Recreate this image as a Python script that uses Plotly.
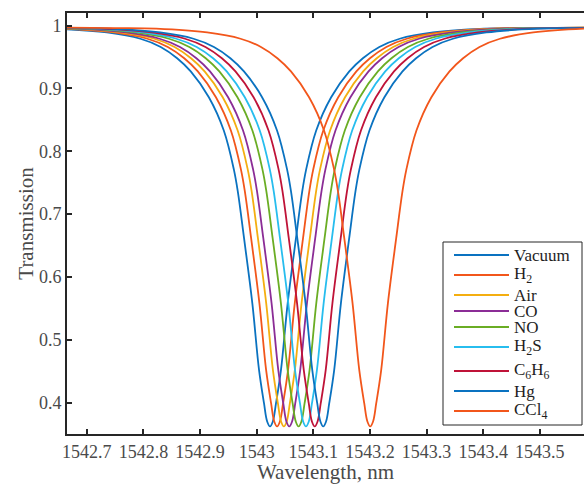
import plotly.graph_objects as go

# gases in the sensing cell and where each resonance dip sits
gases = ["Vacuum", "H<sub>2</sub>", "Air", "CO", "NO", "H<sub>2</sub>S",
         "C<sub>6</sub>H<sub>6</sub>", "Hg", "CCl<sub>4</sub>"]
dip_nm = [1543.0235, 1543.036, 1543.048, 1543.0575, 1543.074, 1543.087,
          1543.1025, 1543.1175, 1543.2005]

# one resonance profile: distance from dip (nm) -> transmission
offset_nm = [0, 0.005, 0.0106, 0.0194, 0.0312, 0.0459, 0.0569, 0.0636, 0.0816, 0.108,
             0.140, 0.164, 0.193, 0.229, 0.288, 0.378, 0.45, 0.6]
trans = [0.362, 0.370, 0.399, 0.452, 0.558, 0.662, 0.736, 0.770, 0.833, 0.886,
         0.927, 0.948, 0.966, 0.979, 0.989, 0.995, 0.996, 0.997]

x_ticks = [1542.7, 1542.8, 1542.9, 1543.0, 1543.1, 1543.2, 1543.3, 1543.4, 1543.5]
x_labels = ["1542.7", "1542.8", "1542.9", "1543", "1543.1", "1543.2", "1543.3", "1543.4", "1543.5"]
y_ticks = [0.4, 0.5, 0.6, 0.7, 0.8, 0.9, 1.0]
y_labels = ["0.4", "0.5", "0.6", "0.7", "0.8", "0.9", "1"]

colors = ["#0a72c0", "#f2561b", "#f4ae10", "#8b2d96", "#6aad24",
          "#27bdee", "#bf1338", "#0a72c0", "#f2561b"]

# mirror the half profile so every dip is symmetric
prof_x = [-o for o in reversed(offset_nm[1:])] + offset_nm
prof_t = list(reversed(trans[1:])) + trans

fig = go.Figure()
for name, c, col in zip(gases, dip_nm, colors):
    fig.add_trace(go.Scatter(
        x=[c + o for o in prof_x], y=prof_t,
        mode="lines", name=name,
        line=dict(color=col, width=1.8, shape="spline"),
    ))

# plot area in pixels, used to place the hand-made legend
L, T, W, H = 67, 13, 517, 421
def px(x):
    return (x - L) / W
def py(y):
    return (T + H - y) / H

axis_col = "#262626"

# legend box, sample lines and labels (MATLAB style, sized by subscripts)
shapes = [dict(type="rect", xref="paper", yref="paper",
               x0=px(443), x1=px(582), y0=py(425), y1=py(242),
               line=dict(color=axis_col, width=1), fillcolor="white", layer="above")]
annotations = []
y = 247
for name, col in zip(gases, colors):
    half = 12 if "<sub>" in name else 8
    y += half
    shapes.append(dict(type="line", xref="paper", yref="paper",
                       x0=px(454), x1=px(509), y0=py(y), y1=py(y),
                       line=dict(color=col, width=1.8), layer="above"))
    annotations.append(dict(text=name, xref="paper", yref="paper",
                            x=px(513), y=py(y), xanchor="left", yanchor="middle",
                            showarrow=False, borderpad=0,
                            font=dict(family="Liberation Serif", size=17, color="#1e1e1e")))
    y += half

fig.update_layout(
    width=584, height=484,
    margin=dict(l=L, r=0, t=T, b=484 - T - H),
    plot_bgcolor="white", paper_bgcolor="white",
    font=dict(family="Liberation Serif", size=18, color="#4a4a4a"),
    showlegend=False,
    shapes=shapes, annotations=annotations,
)
fig.update_xaxes(
    range=[1542.665, 1543.578], tickvals=x_ticks, ticktext=x_labels,
    ticks="inside", ticklen=5, tickwidth=1.5, tickcolor=axis_col,
    showline=True, linecolor=axis_col, linewidth=1.8, mirror="ticks",
    showgrid=False, zeroline=False, automargin=False,
    title=dict(text="Wavelength, nm", font=dict(size=21), standoff=0),
)
fig.update_yaxes(
    range=[0.35, 1.02], tickvals=y_ticks, ticktext=y_labels,
    ticks="inside", ticklen=5, tickwidth=1.5, tickcolor=axis_col,
    showline=True, linecolor=axis_col, linewidth=1.8, mirror=False,
    showgrid=False, zeroline=False, automargin=False,
    title=dict(text="Transmission", font=dict(size=21), standoff=0),
)

fig.write_html("out.html", config={"displayModeBar": False},
               post_script="document.body.style.margin='0px';")
